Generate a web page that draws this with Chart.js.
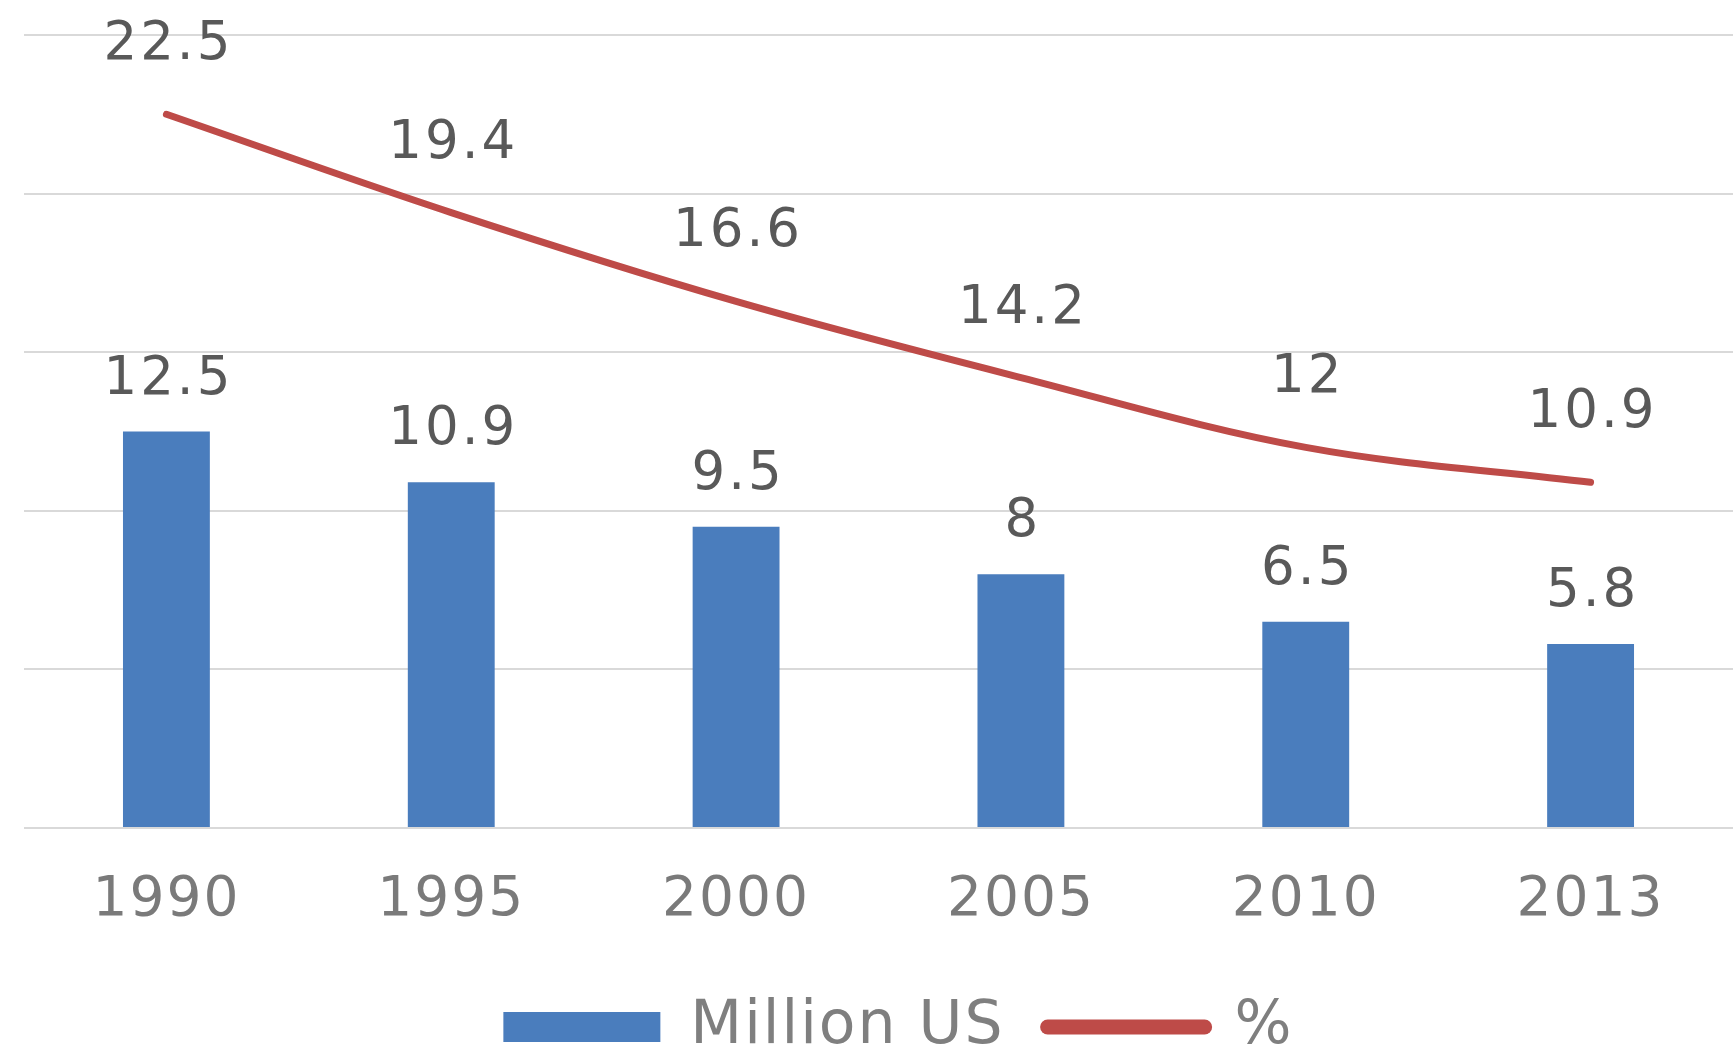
<!DOCTYPE html>
<html>
<head>
<meta charset="utf-8">
<script src="https://cdn.jsdelivr.net/npm/chart.js@4.4.0/dist/chart.umd.min.js"></script>
<style>
  html, body { margin: 0; padding: 0; background: #ffffff; }
  #wrap { width: 1733px; height: 1047px; position: relative; }
</style>
</head>
<body>
<div id="wrap"><canvas id="chart"></canvas></div>
<script>
// Categories and series
const years = ['1990', '1995', '2000', '2005', '2010', '2013'];
const millionUS = [12.5, 10.9, 9.5, 8, 6.5, 5.8];
const percentShare = [22.5, 19.4, 16.6, 14.2, 12, 10.9];

// Shared value axis range
const axisMin = 0;
const axisMax = 25;
const axisStep = 5;

const barColor = '#4a7dbd';
const lineColor = '#be4b48';
const fontFamily = '"DejaVu Sans", "Liberation Sans", sans-serif';

// Slightly widened lettering for all canvas text
const letterSpacingPlugin = {
  id: 'letterSpacing',
  beforeUpdate(chart) { chart.ctx.letterSpacing = '2px'; },
  beforeDraw(chart) { chart.ctx.letterSpacing = '2px'; }
};

// Value labels above each bar and each line point
const valueLabels = {
  id: 'valueLabels',
  afterDatasetsDraw(chart) {
    const ctx = chart.ctx;
    ctx.save();
    ctx.font = '53px ' + fontFamily;
    ctx.fillStyle = '#595959';
    ctx.textAlign = 'center';
    ctx.textBaseline = 'alphabetic';
    ctx.letterSpacing = '3px';
    chart.data.datasets.forEach((ds, i) => {
      const meta = chart.getDatasetMeta(i);
      const gap = ds.type === 'line' ? 55 : 38;
      meta.data.forEach((el, j) => {
        ctx.fillText(String(ds.data[j]), el.x + 2, el.y - gap);
      });
    });
    ctx.restore();
  }
};

new Chart(document.getElementById('chart'), {
  data: {
    labels: years,
    datasets: [
      {
        type: 'bar',
        label: 'Million US',
        data: millionUS,
        backgroundColor: barColor,
        borderWidth: 0,
        barPercentage: 0.305,
        categoryPercentage: 1.0
      },
      {
        type: 'line',
        label: '%',
        data: percentShare,
        borderColor: lineColor,
        backgroundColor: lineColor,
        borderWidth: 7,
        borderCapStyle: 'round',
        tension: 0.35,
        pointRadius: 0,
        fill: false
      }
    ]
  },
  options: {
    responsive: true,
    maintainAspectRatio: false,
    animation: false,
    // The legend row spans a little past the right edge so it sits right of centre;
    // an empty right-hand axis takes that space back from the plot area.
    layout: { padding: { left: 24, right: -40, top: 35, bottom: -20 } },
    scales: {
      x: {
        offset: true,
        grid: { display: false, drawTicks: true, tickLength: 20 },
        border: { display: false },
        ticks: {
          color: '#7a7a7a',
          padding: 20,
          font: { family: fontFamily, size: 55 }
        }
      },
      y: {
        min: axisMin,
        max: axisMax,
        grid: { color: '#d9d9d9', lineWidth: 2, drawTicks: false },
        border: { display: false },
        ticks: { display: false, stepSize: axisStep }
      },
      yRight: {
        position: 'right',
        min: axisMin,
        max: axisMax,
        grid: { display: false, drawTicks: true, tickLength: 40 },
        border: { display: false },
        ticks: { display: false }
      }
    },
    plugins: {
      tooltip: { enabled: false },
      legend: {
        position: 'bottom',
        labels: {
          usePointStyle: true,
          pointStyleWidth: 157,
          boxHeight: 30,
          padding: 43,
          color: '#7f7f7f',
          font: { family: fontFamily, size: 60 },
          generateLabels(chart) {
            const items = Chart.defaults.plugins.legend.labels.generateLabels(chart);
            items.forEach(item => {
              if (item.datasetIndex === 0) {
                item.pointStyle = 'rect';
                item.lineWidth = 0;
                item.fillStyle = barColor;
              } else {
                item.pointStyle = 'line';
                item.lineWidth = 15;
                item.lineCap = 'round';
                item.strokeStyle = lineColor;
              }
            });
            return items;
          }
        }
      }
    }
  },
  plugins: [letterSpacingPlugin, valueLabels]
});
</script>
</body>
</html>
